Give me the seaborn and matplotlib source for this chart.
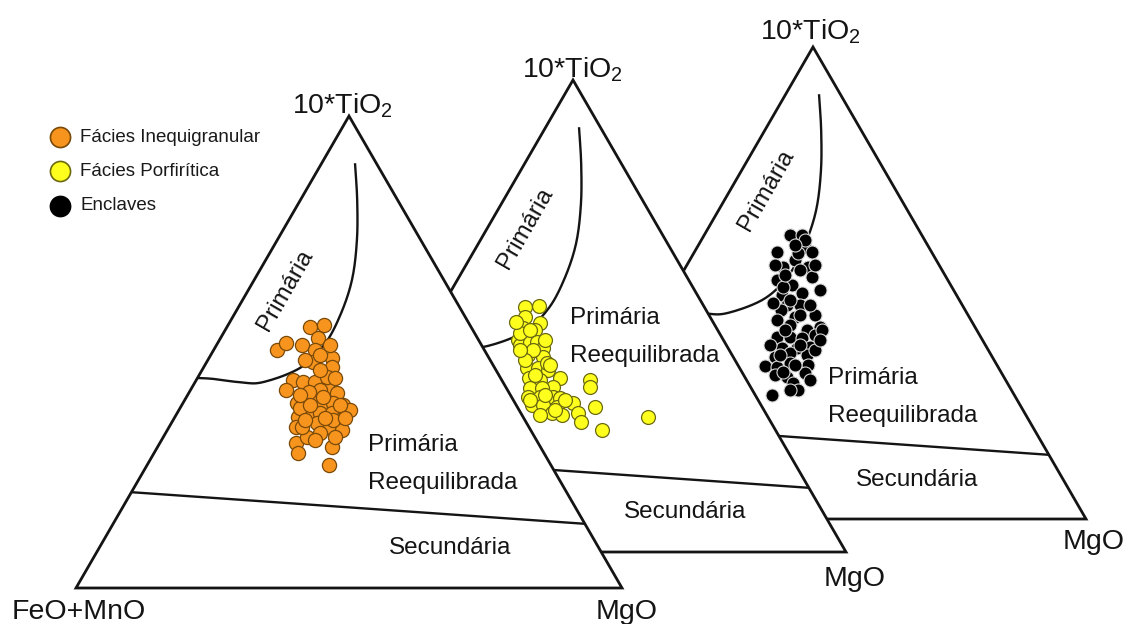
import numpy as np
import pandas as pd
import seaborn as sns
import matplotlib
matplotlib.use("Agg")
import matplotlib.pyplot as plt
from matplotlib.patches import Polygon
from matplotlib import font_manager

# ---------------------------------------------------------------------------
# Biotite compositions (wt% normalised to 10*TiO2 + FeO+MnO + MgO = 100)
# ---------------------------------------------------------------------------
inequigranular_tio2 = [55.3, 55.7, 53.0, 50.4, 51.9, 51.5, 50.4, 47.9, 48.7, 46.8,
                       44.1, 43.6, 43.6, 41.9, 39.2, 42.6, 41.3, 40.5, 38.8, 39.2,
                       38.8, 37.7, 36.2, 37.1, 37.1, 37.1, 35.6, 34.1, 35.0, 34.1,
                       33.5, 30.7, 28.6, 29.9, 26.1, 32.0, 32.8, 38.1, 44.7, 41.9,
                       41.5, 40.5, 35.6, 34.1, 48.3, 46.2, 44.5, 38.8, 38.8, 36.0,
                       36.0, 35.6, 31.4, 32.0, 40.9, 49.4, 51.5]
inequigranular_feomno = [29.5, 26.8, 29.2, 38.0, 35.5, 32.9, 31.1, 32.7, 28.8, 29.7,
                         38.2, 36.7, 34.5, 40.5, 40.0, 32.7, 31.6, 36.3, 35.6, 33.3,
                         31.7, 31.0, 41.3, 38.6, 36.7, 34.5, 33.9, 42.6, 38.4, 36.5,
                         34.5, 44.3, 45.1, 38.1, 40.6, 41.7, 38.9, 40.0, 31.7, 34.4,
                         36.5, 34.5, 35.1, 41.5, 34.0, 32.2, 30.3, 32.2, 37.7, 36.4,
                         32.7, 40.3, 40.5, 36.6, 38.6, 30.6, 27.7]
inequigranular_mgo = [15.2, 17.5, 17.8, 11.6, 12.6, 15.6, 18.5, 19.4, 22.5, 23.5,
                      17.7, 19.7, 21.9, 17.6, 20.8, 24.7, 27.1, 23.2, 25.6, 27.5,
                      29.5, 31.3, 22.5, 24.3, 26.2, 28.4, 30.5, 23.3, 26.6, 29.4,
                      32.0, 25.0, 26.3, 32.0, 33.3, 26.3, 28.3, 21.9, 23.6, 23.7,
                      22.0, 25.0, 29.3, 24.4, 17.7, 21.6, 25.2, 29.0, 23.5, 27.6,
                      31.3, 24.1, 28.1, 31.4, 20.5, 20.0, 20.8]

porfiritica_tio2 = [51.9, 52.1, 49.8, 48.5, 47.5, 47.0, 44.9, 43.9, 44.5, 44.5,
                    43.2, 41.7, 41.3, 39.0, 39.0, 38.6, 36.9, 36.9, 36.4, 35.0,
                    34.7, 34.7, 32.8, 32.8, 32.8, 32.6, 31.1, 31.1, 30.7, 31.6,
                    29.4, 29.0, 29.4, 27.5, 36.4, 35.0, 30.7, 25.8, 28.6, 46.4,
                    48.7, 40.0, 42.8, 47.0, 44.9, 40.7, 39.6, 37.5, 33.3, 32.2,
                    30.1, 32.2, 29.0, 42.8]
porfiritica_feomno = [32.9, 30.2, 33.9, 31.8, 35.4, 33.5, 37.7, 37.7, 35.6, 34.3,
                      33.9, 37.4, 34.9, 38.9, 36.9, 35.3, 33.9, 39.7, 37.8, 36.2,
                      40.6, 38.4, 41.8, 39.6, 37.3, 36.1, 42.0, 40.0, 37.6, 34.2,
                      39.1, 37.5, 34.4, 34.7, 28.7, 29.4, 30.7, 31.8, 22.0, 36.5,
                      36.0, 34.8, 35.9, 34.4, 32.7, 38.4, 34.4, 38.3, 38.4, 41.8,
                      38.2, 35.4, 41.5, 38.3]
porfiritica_mgo = [15.2, 17.7, 16.3, 19.7, 17.1, 19.5, 17.4, 18.4, 19.9, 21.2,
                   22.9, 20.9, 23.8, 22.1, 24.1, 26.1, 29.2, 23.4, 25.8, 28.8,
                   24.7, 26.9, 25.4, 27.6, 29.9, 31.3, 26.9, 28.9, 31.7, 34.2,
                   31.5, 33.5, 36.2, 37.8, 34.9, 35.6, 38.6, 42.4, 49.4, 17.1,
                   15.3, 25.2, 21.3, 18.6, 22.4, 20.9, 26.0, 24.2, 28.3, 26.0,
                   31.7, 32.4, 29.5, 18.9]

enclaves_tio2 = [60.2, 60.2, 57.6, 56.6, 56.6, 54.9, 53.4, 53.4, 50.6, 51.3,
                 49.6, 48.5, 47.9, 47.5, 45.3, 44.3, 45.3, 42.8, 43.2, 42.2,
                 41.1, 40.0, 40.7, 38.6, 38.6, 38.3, 39.0, 36.2, 36.2, 36.4,
                 34.3, 35.2, 34.7, 32.4, 32.2, 33.1, 32.6, 30.5, 30.1, 28.8,
                 27.3, 26.3, 31.1, 30.9, 40.0, 45.8, 56.4, 49.2, 52.8, 46.4,
                 45.3, 40.0, 36.9, 35.8, 34.7, 32.6, 29.4, 27.3, 36.9, 59.1,
                 58.1, 53.8, 53.8, 43.2, 51.7, 37.9]
enclaves_feomno = [24.1, 21.9, 22.7, 21.9, 28.3, 25.8, 28.8, 24.2, 31.3, 24.5,
                   29.0, 24.5, 28.0, 31.9, 32.2, 33.8, 29.8, 31.9, 28.0, 35.5,
                   33.7, 31.1, 28.3, 37.3, 34.9, 32.9, 30.1, 37.6, 34.8, 32.3,
                   39.9, 36.6, 33.8, 42.6, 40.5, 37.6, 34.6, 41.8, 39.7, 39.3,
                   39.1, 44.4, 40.0, 36.1, 28.4, 34.4, 24.5, 30.9, 26.0, 31.0,
                   27.9, 35.1, 33.9, 31.7, 38.7, 37.0, 35.8, 40.6, 39.4, 22.0,
                   24.2, 22.7, 30.1, 30.8, 29.2, 29.8]
enclaves_mgo = [15.7, 17.9, 19.7, 21.5, 15.1, 19.3, 17.8, 22.4, 18.1, 24.2,
                21.4, 27.0, 24.1, 20.6, 22.5, 21.9, 24.9, 25.3, 28.8, 22.3,
                25.2, 28.9, 31.0, 24.1, 26.5, 28.8, 30.9, 26.2, 29.0, 31.3,
                25.8, 28.2, 31.5, 25.0, 27.3, 29.3, 32.8, 27.7, 30.2, 31.9,
                33.6, 29.3, 28.9, 33.0, 31.6, 19.8, 19.1, 19.9, 21.2, 22.6,
                26.8, 24.9, 29.2, 32.5, 26.6, 30.4, 34.8, 32.1, 23.7, 18.9,
                17.7, 23.5, 16.1, 26.0, 19.1, 32.3]

# Field boundaries of the biotite discrimination diagram (same ternary units)
primary_curve_tio2 = [90.0, 82.2, 73.7, 65.3, 57.8, 51.5, 46.6, 43.6, 43.6, 44.3, 44.5]
primary_curve_mgo = [6.1, 10.4, 14.6, 17.9, 19.5, 19.7, 17.7, 12.4, 8.2, 3.0, 0.0]
primary_curve_feomno = [3.9, 7.4, 11.7, 16.8, 22.7, 28.8, 35.7, 44.0, 48.2, 52.7, 55.5]

secondary_line_tio2 = [20.3, 13.6]
secondary_line_feomno = [79.7, 0.0]
secondary_line_mgo = [0.0, 86.4]

legend_labels = ["Fácies Inequigranular", "Fácies Porfirítica", "Enclaves"]

# ---------------------------------------------------------------------------
sns.set_theme(style="white")
names = {f.name for f in font_manager.fontManager.ttflist}
MAIN_FONT = "Liberation Sans" if "Liberation Sans" in names else "DejaVu Sans"
NARROW_FONT = "Liberation Sans Narrow" if "Liberation Sans Narrow" in names else MAIN_FONT
plt.rcParams["font.family"] = [MAIN_FONT, "DejaVu Sans"]
plt.rcParams["mathtext.fontset"] = "custom"
plt.rcParams["mathtext.rm"] = MAIN_FONT
plt.rcParams["mathtext.it"] = MAIN_FONT
plt.rcParams["mathtext.bf"] = MAIN_FONT

INK = "#141414"
SIDE, HEIGHT = 546, 472  # triangle size in canvas units


def ternary_xy(tio2, feomno, mgo, origin):
    t = np.asarray(tio2, float)
    f = np.asarray(feomno, float)
    m = np.asarray(mgo, float)
    s = t + f + m
    t, m = t / s, m / s
    ox, oy = origin
    return ox + SIDE * (m + t / 2.0), oy - HEIGHT * t


def smooth(x, y, n=16):
    """Catmull-Rom spline through the given vertices."""
    p = np.column_stack([x, y])
    p = np.vstack([2 * p[0] - p[1], p, 2 * p[-1] - p[-2]])
    out = []
    for i in range(1, len(p) - 2):
        p0, p1, p2, p3 = p[i - 1], p[i], p[i + 1], p[i + 2]
        for u in np.linspace(0, 1, n, endpoint=False):
            out.append(0.5 * ((2 * p1) + (-p0 + p2) * u
                              + (2 * p0 - 5 * p1 + 4 * p2 - p3) * u ** 2
                              + (-p0 + 3 * p1 - 3 * p2 + p3) * u ** 3))
    out.append(p[-2])
    out = np.array(out)
    return out[:, 0], out[:, 1]


fig = plt.figure(figsize=(11.28, 6.24), dpi=100)
ax = fig.add_axes([0, 0, 1, 1])
ax.set_axis_off()

panels = [
    dict(origin=(540, 519), tio2=enclaves_tio2, feo=enclaves_feomno, mgo=enclaves_mgo,
         face="#000000", edge="#d8d8d8", size=88, lw=0.8,
         prim=(766, 190), reeq=(828, 378), sec=(917, 480)),
    dict(origin=(300, 552), tio2=porfiritica_tio2, feo=porfiritica_feomno, mgo=porfiritica_mgo,
         face="#FFFF1E", edge="#6b6a10", size=100, lw=0.9,
         prim=(525, 228), reeq=(570, 318), sec=(685, 512)),
    dict(origin=(76, 588), tio2=inequigranular_tio2, feo=inequigranular_feomno, mgo=inequigranular_mgo,
         face="#F7941E", edge="#7a4a08", size=104, lw=0.9,
         prim=(285, 290), reeq=(368, 445), sec=(450, 548)),
]

TXT = 17.5
for k, p in enumerate(panels):
    base = 1 + 10 * k
    ox, oy = p["origin"]
    tri = Polygon([(ox, oy), (ox + SIDE, oy), (ox + SIDE / 2, oy - HEIGHT)], closed=True,
                  facecolor="white", edgecolor=INK, lw=2.0, joinstyle="miter", zorder=base)
    ax.add_patch(tri)

    cx, cy = ternary_xy(primary_curve_tio2, primary_curve_feomno, primary_curve_mgo, p["origin"])
    sx, sy = smooth(cx, cy)
    ln, = ax.plot(sx, sy, color=INK, lw=1.7, zorder=base + 1, solid_capstyle="butt")
    ln.set_clip_path(tri)

    lx, ly = ternary_xy(secondary_line_tio2, secondary_line_feomno, secondary_line_mgo, p["origin"])
    ln2, = ax.plot(lx, ly, color=INK, lw=1.7, zorder=base + 1)
    ln2.set_clip_path(tri)

    px, py = ternary_xy(p["tio2"], p["feo"], p["mgo"], p["origin"])
    df = pd.DataFrame({"x": px, "y": py})
    sns.scatterplot(data=df, x="x", y="y", ax=ax, s=p["size"], color=p["face"],
                    edgecolor=p["edge"], linewidth=p["lw"], legend=False, zorder=base + 2)
    ax.collections[-1].set_clip_path(tri)

    ax.text(*p["prim"], "Primária", rotation=60, ha="center", va="center",
            fontsize=TXT, color=INK, zorder=base + 3)
    rx, ry = p["reeq"]
    ax.text(rx, ry, "Primária", ha="left", va="center", fontsize=TXT, color=INK, zorder=base + 3)
    ax.text(rx, ry + 38, "Reequilibrada", ha="left", va="center", fontsize=TXT, color=INK,
            zorder=base + 3)
    ax.text(*p["sec"], "Secundária", ha="center", va="center", fontsize=TXT, color=INK,
            zorder=base + 3)

# Apex and corner labels
VTX = 20.5
ttl = r"10*TiO$_{\mathrm{2}}$"
ax.text(342, 113, ttl, ha="center", va="baseline", fontsize=VTX, color=INK, zorder=50)
ax.text(572, 77, ttl, ha="center", va="baseline", fontsize=VTX, color=INK, zorder=50)
ax.text(810, 40, ttl, ha="center", va="baseline", fontsize=VTX, color=INK, zorder=50)
ax.text(12, 619, "FeO+MnO", ha="left", va="baseline", fontsize=VTX, color=INK, zorder=50)
ax.text(627, 619, "MgO", ha="center", va="baseline", fontsize=VTX, color=INK, zorder=50)
ax.text(855, 586, "MgO", ha="center", va="baseline", fontsize=VTX, color=INK, zorder=50)
ax.text(1094, 549, "MgO", ha="center", va="baseline", fontsize=VTX, color=INK, zorder=50)

# Legend
leg_face = ["#F7941E", "#FFFF1E", "#000000"]
leg_edge = ["#7a4a08", "#6b6a10", "#000000"]
leg_y = [137, 171, 206]
for lab, fc, ec, yy in zip(legend_labels, leg_face, leg_edge, leg_y):
    ax.scatter([60], [yy], s=210, color=fc, edgecolor=ec, linewidth=1.2, zorder=60)
    ax.text(80, yy, lab, ha="left", va="center", fontsize=13.5, color="#1a1a1a",
            family=[NARROW_FONT, "DejaVu Sans"], zorder=60)

ax.set_xlim(0, 1128)
ax.set_ylim(624, 0)
fig.savefig("out.png", dpi=100, facecolor="white")
